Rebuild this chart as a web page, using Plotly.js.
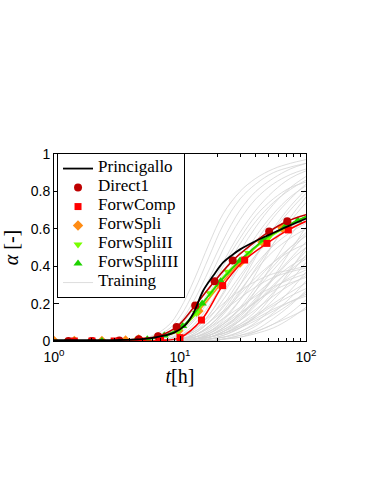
<!DOCTYPE html>
<html>
<head>
<meta charset="utf-8">
<script src="https://cdn.plot.ly/plotly-3.0.1.min.js"></script>
<style>
  html, body { margin: 0; padding: 0; background: #fff; }
  #chart { width: 382px; height: 494px; }
</style>
</head>
<body>
<div id="chart"></div>
<script>
// time grid of the training curves [h]
const trainT = [1, 5, 8, 10, 13, 17, 22, 30, 40, 55, 75, 100];

// training curves (alpha on trainT)
const trainA = [
  [0, 0.01, 0.08, 0.17, 0.33, 0.52, 0.68, 0.80, 0.87, 0.92, 0.95, 0.97],
  [0, 0, 0.04, 0.10, 0.22, 0.38, 0.54, 0.70, 0.80, 0.87, 0.92, 0.95],
  [0, 0, 0.02, 0.06, 0.14, 0.27, 0.42, 0.58, 0.70, 0.80, 0.87, 0.91],
  [0, 0, 0.01, 0.03, 0.09, 0.19, 0.32, 0.48, 0.61, 0.73, 0.82, 0.88],
  [0, 0, 0, 0.02, 0.06, 0.14, 0.25, 0.40, 0.53, 0.66, 0.76, 0.84],
  [0, 0, 0, 0.01, 0.04, 0.10, 0.19, 0.33, 0.46, 0.59, 0.70, 0.79],
  [0, 0, 0, 0.01, 0.03, 0.07, 0.14, 0.26, 0.39, 0.52, 0.64, 0.74],
  [0, 0, 0, 0.01, 0.03, 0.08, 0.15, 0.25, 0.34, 0.42, 0.48, 0.52],
  [0, 0, 0, 0.01, 0.02, 0.06, 0.12, 0.22, 0.32, 0.42, 0.50, 0.56],
  [0, 0, 0, 0, 0.01, 0.04, 0.09, 0.17, 0.27, 0.38, 0.48, 0.57],
  [0, 0, 0, 0, 0.01, 0.03, 0.07, 0.14, 0.23, 0.34, 0.44, 0.53],
  [0, 0, 0, 0, 0.01, 0.02, 0.05, 0.11, 0.19, 0.29, 0.39, 0.48],
  [0, 0, 0, 0, 0, 0.02, 0.04, 0.09, 0.16, 0.26, 0.36, 0.46],
  [0, 0, 0, 0, 0, 0.01, 0.03, 0.07, 0.13, 0.22, 0.32, 0.42],
  [0, 0, 0, 0, 0, 0.01, 0.02, 0.05, 0.10, 0.18, 0.27, 0.37],
  [0, 0, 0, 0, 0, 0.01, 0.02, 0.04, 0.08, 0.15, 0.23, 0.32],
  [0, 0, 0, 0, 0, 0, 0.01, 0.03, 0.06, 0.12, 0.19, 0.27],
  [0, 0, 0, 0, 0, 0, 0.01, 0.02, 0.05, 0.09, 0.15, 0.22],
  [0, 0, 0, 0, 0, 0, 0.01, 0.02, 0.04, 0.07, 0.12, 0.18],
  [0, 0, 0.01, 0.03, 0.07, 0.13, 0.20, 0.27, 0.32, 0.36, 0.38, 0.40],
  [0, 0, 0, 0.02, 0.05, 0.10, 0.16, 0.23, 0.29, 0.34, 0.37, 0.39],
  [0, 0, 0, 0.01, 0.03, 0.07, 0.12, 0.18, 0.24, 0.29, 0.33, 0.36],
  [0, 0, 0, 0.01, 0.02, 0.05, 0.10, 0.17, 0.25, 0.33, 0.40, 0.45],
  [0, 0, 0, 0, 0.02, 0.04, 0.08, 0.14, 0.21, 0.28, 0.34, 0.38],
  [0, 0, 0, 0, 0.01, 0.03, 0.06, 0.11, 0.17, 0.24, 0.30, 0.35],
  [0, 0, 0, 0, 0.01, 0.02, 0.05, 0.09, 0.14, 0.20, 0.26, 0.31],
  [0, 0, 0, 0, 0.01, 0.02, 0.04, 0.08, 0.13, 0.19, 0.24, 0.28],
  [0, 0, 0, 0, 0, 0.02, 0.04, 0.07, 0.11, 0.16, 0.21, 0.25],
  [0, 0, 0, 0.01, 0.03, 0.08, 0.16, 0.30, 0.45, 0.60, 0.72, 0.81],
  [0, 0, 0, 0, 0.02, 0.05, 0.11, 0.22, 0.36, 0.52, 0.66, 0.77],
  [0, 0, 0, 0, 0.01, 0.03, 0.07, 0.15, 0.27, 0.42, 0.56, 0.68],
  [0, 0, 0, 0, 0.01, 0.02, 0.05, 0.11, 0.21, 0.34, 0.48, 0.61],
  [0, 0, 0, 0, 0, 0.01, 0.03, 0.07, 0.14, 0.25, 0.38, 0.50],
  [0, 0, 0, 0.02, 0.06, 0.14, 0.26, 0.42, 0.56, 0.68, 0.77, 0.83],
  [0, 0, 0.01, 0.04, 0.11, 0.22, 0.36, 0.52, 0.64, 0.74, 0.81, 0.86],
  [0, 0, 0.01, 0.05, 0.12, 0.25, 0.40, 0.55, 0.67, 0.76, 0.82, 0.85],
  [0, 0, 0, 0.02, 0.05, 0.12, 0.22, 0.35, 0.46, 0.55, 0.61, 0.65],
  [0, 0, 0, 0.01, 0.03, 0.08, 0.15, 0.27, 0.38, 0.48, 0.55, 0.60],
  [0, 0, 0, 0.01, 0.04, 0.10, 0.18, 0.30, 0.41, 0.51, 0.58, 0.63],
  [0, 0, 0, 0, 0.01, 0.04, 0.09, 0.18, 0.29, 0.40, 0.50, 0.58],
  [0, 0.01, 0.06, 0.13, 0.27, 0.45, 0.62, 0.76, 0.84, 0.90, 0.93, 0.95],
  [0, 0, 0.03, 0.08, 0.18, 0.33, 0.49, 0.65, 0.76, 0.84, 0.89, 0.92],
  [0, 0, 0, 0, 0.01, 0.02, 0.04, 0.08, 0.12, 0.17, 0.21, 0.24],
  [0, 0, 0, 0, 0, 0.01, 0.02, 0.05, 0.09, 0.14, 0.20, 0.26],
  [0, 0, 0, 0, 0, 0, 0.01, 0.03, 0.05, 0.09, 0.13, 0.17],
  [0, 0, 0, 0.01, 0.02, 0.05, 0.09, 0.15, 0.21, 0.27, 0.31, 0.34],
  [0, 0, 0, 0, 0.01, 0.03, 0.06, 0.12, 0.20, 0.30, 0.38, 0.44],
  [0, 0, 0, 0, 0.01, 0.03, 0.07, 0.13, 0.22, 0.33, 0.43, 0.50]
];

// Princigallo (black line)
const prinT = [1, 3, 5, 7, 9, 11, 12.8, 15.3, 18.4, 22, 26, 30, 40, 50, 70, 100];
const prinA = [0.005, 0.005, 0.01, 0.025, 0.045, 0.085, 0.15, 0.27, 0.35, 0.42, 0.46, 0.49, 0.535, 0.565, 0.61, 0.655];

// Direct1
const d1T = [1, 1.3, 2.0, 3.3, 4.7, 6.7, 9.4, 13.2, 18.8, 26.2, 36, 51, 71, 100];
const d1A = [0, 0, 0, 0.003, 0.01, 0.025, 0.075, 0.19, 0.32, 0.43, 0.51, 0.585, 0.64, 0.675];
const d1MarkT = [1.3, 2.0, 3.3, 4.7, 6.7, 9.4, 13.2, 18.8, 26.2, 51, 71];
const d1MarkA = [0, 0, 0.003, 0.01, 0.025, 0.075, 0.19, 0.32, 0.43, 0.585, 0.64];

// ForwComp
const fcT = [1, 1.45, 2.0, 3.0, 5.0, 7.0, 10, 14.8, 21.8, 32.6, 49, 72.4, 100];
const fcA = [0, 0, 0, 0, 0, 0.003, 0.018, 0.112, 0.296, 0.433, 0.522, 0.594, 0.64];
const fcMarkT = [1.45, 2.0, 3.0, 5.0, 7.0, 10, 14.8, 21.8, 32.6, 49, 72.4];
const fcMarkA = [0, 0, 0, 0, 0.003, 0.018, 0.112, 0.296, 0.433, 0.522, 0.594];

// ForwSpli
const fsT = [1, 1.45, 2.4, 3.7, 4.7, 6.7, 9.7, 14, 20.8, 30, 45, 65, 100];
const fsA = [0, 0, 0, 0.003, 0.008, 0.02, 0.055, 0.16, 0.30, 0.42, 0.53, 0.605, 0.665];
const fsMarkT = [1, 1.45, 2.4, 3.7, 4.7, 6.7, 9.7, 14, 20.8, 30, 45, 65];
const fsMarkA = [0, 0, 0, 0.003, 0.008, 0.02, 0.055, 0.16, 0.30, 0.42, 0.53, 0.605];

// ForwSpliII
const s2T = [1, 1.3, 2.0, 3.1, 4.7, 6.7, 9.7, 13.5, 17.3, 24, 35, 50, 72, 100];
const s2A = [0, 0, 0, 0.002, 0.008, 0.02, 0.055, 0.15, 0.255, 0.37, 0.47, 0.55, 0.615, 0.665];
const s2MarkT = [1.3, 2.0, 3.1, 4.7, 6.7, 9.7, 13.5, 17.3, 24, 35, 50, 72];
const s2MarkA = [0, 0, 0.002, 0.008, 0.02, 0.055, 0.15, 0.255, 0.37, 0.47, 0.55, 0.615];

// ForwSpliIII
const s3T = [1, 1.45, 2.4, 3.3, 5.5, 7.5, 10.5, 15, 21, 30, 46, 68, 86, 100];
const s3A = [0, 0, 0, 0.002, 0.01, 0.03, 0.08, 0.20, 0.32, 0.43, 0.54, 0.61, 0.645, 0.665];
const s3MarkT = [1.45, 2.4, 3.3, 5.5, 7.5, 10.5, 15, 21, 30, 46, 68, 86];
const s3MarkA = [0, 0, 0.002, 0.01, 0.03, 0.08, 0.20, 0.32, 0.43, 0.54, 0.61, 0.645];

const xTicks = [1, 10, 100];
const xTickText = ['10<sup>0</sup>', '10<sup>1</sup>', '10<sup>2</sup>'];
const yTicks = [0, 0.2, 0.4, 0.6, 0.8, 1];
const yTickText = ['0', '0.2', '0.4', '0.6', '0.8', '1'];

// legend text is drawn bigger than legend.font so the rows stay tight
const legendName = (s) => '<span style="font-size:17px">' + s + '</span>';

const traces = [];

// training curves behind everything
trainA.forEach((a, i) => {
    traces.push({
        x: trainT, y: a,
        mode: 'lines', type: 'scatter',
        line: { color: 'rgb(212,212,212)', width: 0.8, shape: 'spline' },
        name: legendName('Training'), legendgroup: 'train',
        showlegend: i === 0, legendrank: 7,
        hoverinfo: 'skip'
    });
});

function addModel(name, lineT, lineA, markT, markA, color, symbol, size, rank) {
    traces.push({
        x: lineT, y: lineA, mode: 'lines', type: 'scatter',
        line: { color: color, width: 1.6, shape: 'spline' },
        showlegend: false, legendgroup: name
    });
    traces.push({
        x: markT, y: markA, mode: 'markers', type: 'scatter',
        marker: { color: color, symbol: symbol, size: size },
        name: legendName(name), legendgroup: name, legendrank: rank
    });
}

addModel('ForwSpli', fsT, fsA, fsMarkT, fsMarkA, 'rgb(255,140,20)', 'diamond', 8, 4);
addModel('ForwSpliII', s2T, s2A, s2MarkT, s2MarkA, 'rgb(120,255,0)', 'triangle-down', 8, 5);
addModel('ForwSpliIII', s3T, s3A, s3MarkT, s3MarkA, 'rgb(30,210,0)', 'triangle-up', 8, 6);
addModel('Direct1', d1T, d1A, d1MarkT, d1MarkA, 'rgb(190,0,0)', 'circle', 8, 2);
addModel('ForwComp', fcT, fcA, fcMarkT, fcMarkA, 'rgb(255,0,0)', 'square', 7, 3);

traces.push({
    x: prinT, y: prinA, mode: 'lines', type: 'scatter',
    line: { color: 'black', width: 1.8, shape: 'spline' },
    name: legendName('Princigallo'), legendrank: 1
});

const layout = {
    width: 382, height: 494,
    margin: { l: 54, r: 76, t: 154, b: 153 },
    paper_bgcolor: 'white', plot_bgcolor: 'white',
    showlegend: true,
    font: { family: 'Liberation Sans, Arial, sans-serif', color: 'black', size: 13 },
    xaxis: {
        type: 'log', range: [0, 2],
        tickvals: xTicks, ticktext: xTickText,
        ticks: 'inside', ticklen: 5, tickcolor: 'black',
        minor: { ticks: 'inside', ticklen: 3, tickcolor: 'black', dtick: 'D1' },
        showline: true, linecolor: 'black', linewidth: 1, mirror: 'ticks',
        showgrid: false, zeroline: false,
        tickfont: { size: 14 }, ticklabelstandoff: 3,
        title: { text: '<i>t</i>[h]', font: { family: 'Liberation Serif, serif', size: 20 }, standoff: 0 }
    },
    yaxis: {
        range: [0, 1],
        tickvals: yTicks, ticktext: yTickText,
        ticks: 'inside', ticklen: 5, tickcolor: 'black',
        showline: true, linecolor: 'black', linewidth: 1, mirror: 'ticks',
        showgrid: false, zeroline: false,
        tickfont: { size: 14 },
        title: { text: '<i>α</i> [-]', font: { family: 'Liberation Serif, serif', size: 20 }, standoff: 6 }
    },
    legend: {
        x: 0.012, y: 1.005, xanchor: 'left', yanchor: 'top',
        bgcolor: 'white', bordercolor: 'black', borderwidth: 1,
        font: { family: 'Liberation Serif, serif', size: 10 },
        tracegroupgap: 0, itemwidth: 30
    }
};

Plotly.newPlot('chart', traces, layout, { displayModeBar: false, staticPlot: true });
</script>
</body>
</html>
